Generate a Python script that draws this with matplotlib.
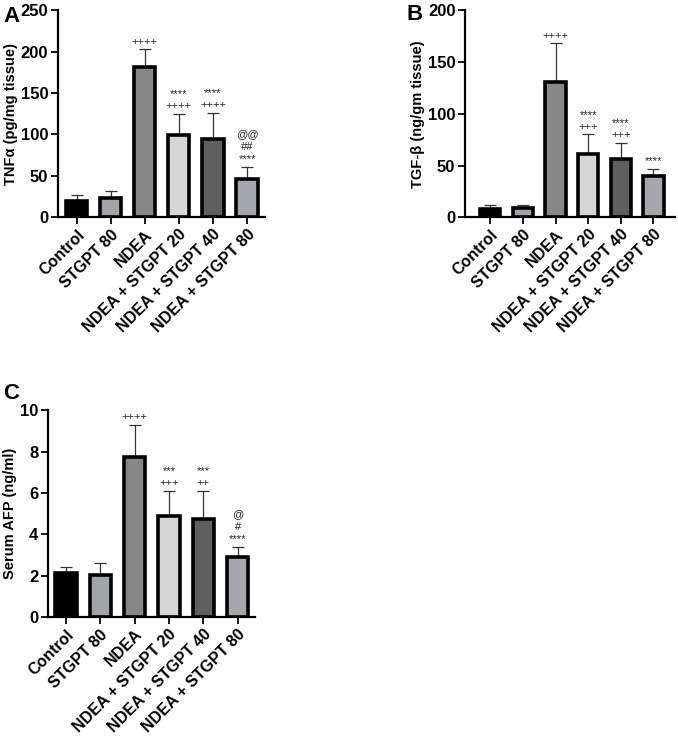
import matplotlib
matplotlib.use("Agg")
import matplotlib.pyplot as plt
import numpy as np

plt.rcParams['font.family'] = ['Liberation Sans', 'DejaVu Sans']

groups = ['Control', 'STGPT 80', 'NDEA', 'NDEA + STGPT 20', 'NDEA + STGPT 40', 'NDEA + STGPT 80']
colors = ['#000000', '#a3a3ab', '#878787', '#d6d6d6', '#5f5f5f', '#a6a6ae']

tnf_mean = [20, 23, 181, 99, 94, 46]
tnf_sd = [7, 9, 22, 26, 32, 15]
tnf_marks = ['', '', '++++', '****\n++++', '****\n++++', '@@\n##\n****']

tgf_mean = [8, 9, 131, 61, 56, 40]
tgf_sd = [4, 3, 37, 19, 16, 7]
tgf_marks = ['', '', '++++', '****\n+++', '****\n+++', '****']

afp_mean = [2.15, 2.05, 7.75, 4.9, 4.75, 2.9]
afp_sd = [0.25, 0.55, 1.55, 1.2, 1.35, 0.5]
afp_marks = ['', '', '++++', '***\n+++', '***\n++', '@\n#\n****']


def draw_panel(ax, mean, sd, marks, ylim, yticks, ylabel, xlim):
    x = np.arange(len(groups))
    ax.bar(x, mean, width=0.62, color=colors, edgecolor='black', linewidth=2.6, zorder=2)
    ax.errorbar(x, mean, yerr=[np.zeros(len(sd)), sd], fmt='none', ecolor='#333333',
                elinewidth=0.9, capsize=4, capthick=0.9, zorder=1)
    pad = ylim[1] * 0.012
    for i, m in enumerate(marks):
        if m:
            ax.text(x[i], mean[i] + sd[i] + pad, m, ha='center', va='bottom',
                    fontsize=8, linespacing=1.3, color='#222222')
    ax.set_ylim(*ylim)
    ax.set_yticks(yticks)
    ax.set_xlim(*xlim)
    ax.set_xticks(x)
    ax.set_xticklabels(groups, rotation=45, ha='right', rotation_mode='anchor',
                       fontsize=11.5, fontweight='bold')
    for lab in ax.get_yticklabels():
        lab.set_fontweight('bold')
        lab.set_fontsize(12)
    ax.set_ylabel(ylabel, fontsize=10.5, fontweight='bold', labelpad=2)
    ax.spines['top'].set_visible(False)
    ax.spines['right'].set_visible(False)
    ax.spines['left'].set_linewidth(1.6)
    ax.spines['bottom'].set_linewidth(1.6)
    ax.tick_params(width=1.3, length=5, pad=2)


fig = plt.figure(figsize=(6.78, 7.39), dpi=100)

axA = fig.add_axes([0.0855, 0.706, 0.305, 0.28])
draw_panel(axA, tnf_mean, tnf_sd, tnf_marks, (0, 250), [0, 50, 100, 150, 200, 250],
           'TNFα (pg/mg tissue)', (-0.55, 5.52))

axB = fig.add_axes([0.686, 0.706, 0.310, 0.28])
draw_panel(axB, tgf_mean, tgf_sd, tgf_marks, (0, 200), [0, 50, 100, 150, 200],
           'TGF-β (ng/gm tissue)', (-0.77, 5.67))

axC = fig.add_axes([0.0708, 0.165, 0.305, 0.28])
draw_panel(axC, afp_mean, afp_sd, afp_marks, (0, 10), [0, 2, 4, 6, 8, 10],
           'Serum AFP (ng/ml)', (-0.52, 5.5))

fig.text(0.005, 0.978, 'A', fontsize=16, fontweight='bold', va='center')
fig.text(0.600, 0.980, 'B', fontsize=16, fontweight='bold', va='center')
fig.text(0.005, 0.468, 'C', fontsize=16, fontweight='bold', va='center')

fig.savefig('out.png', dpi=100)
